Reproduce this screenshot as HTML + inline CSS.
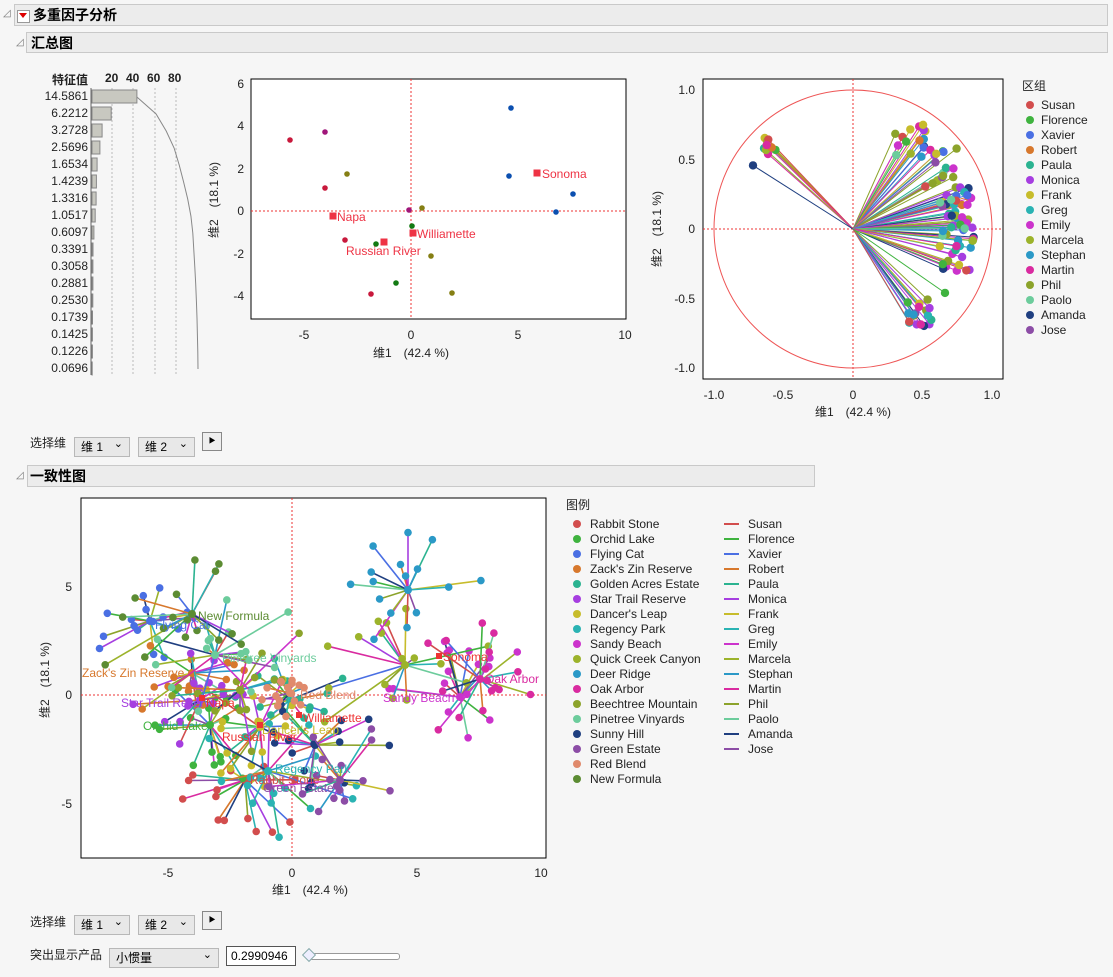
<!DOCTYPE html>
<html><head><meta charset="utf-8">
<style>
body{margin:0;background:#f6f6f6;font-family:"Liberation Sans","Noto Sans CJK SC",sans-serif;}
#root{position:relative;width:1113px;height:977px;overflow:hidden;}
.hdr{position:absolute;background:#ececec;border:1px solid #c9c9c9;font-weight:bold;font-size:14px;line-height:20px;box-sizing:border-box;}
.t{position:absolute;font-size:12px;color:#222;white-space:nowrap;}
.dd{position:absolute;height:20px;border:1px solid #b8b8b8;background:#e8e8e8;box-sizing:border-box;font-size:12px;line-height:18px;padding-left:6px;}
.dd:after{content:"⌄";position:absolute;right:6px;top:-3px;font-size:11px;}
.btn{position:absolute;width:20px;height:19px;border:1px solid #888;background:#eee;box-sizing:border-box;}
svg{position:absolute;left:0;top:0;}
</style></head><body><div id="root">
<div class="t" style="left:3px;top:8px;font-size:10px;color:#777">◿</div>
<div class="hdr" style="left:14px;top:4px;width:1094px;height:22px;padding-left:18px;">多重因子分析</div>
<div style="position:absolute;left:17px;top:10px;width:11px;height:11px;border:1px solid #999;background:#fff;"></div>
<div style="position:absolute;left:19px;top:13px;width:0;height:0;border-left:4px solid transparent;border-right:4px solid transparent;border-top:5px solid #d00;"></div>
<div class="t" style="left:16px;top:37px;font-size:10px;color:#777">◿</div>
<div class="hdr" style="left:26px;top:32px;width:1082px;height:21px;padding-left:4px;">汇总图</div>

<div class="t" style="left:52px;top:71px;font-weight:bold;">特征值</div>
<div class="t" style="left:105px;top:71px;font-weight:bold;">20</div>
<div class="t" style="left:126px;top:71px;font-weight:bold;">40</div>
<div class="t" style="left:147px;top:71px;font-weight:bold;">60</div>
<div class="t" style="left:168px;top:71px;font-weight:bold;">80</div>
<div id="eig"></div>

<div class="t" style="left:30px;top:434px;">选择维</div>
<div class="dd" style="left:74px;top:437px;width:56px;">维 1</div>
<div class="dd" style="left:138px;top:437px;width:57px;">维 2</div>
<div class="btn" style="left:202px;top:432px;"><span style="position:absolute;left:4px;top:1px;font-size:12px">⯈</span></div>
<div class="t" style="left:16px;top:470px;font-size:10px;color:#777">◿</div>
<div class="hdr" style="left:27px;top:465px;width:788px;height:22px;padding-left:2px;">一致性图</div>

<div class="t" style="left:30px;top:913px;">选择维</div>
<div class="dd" style="left:74px;top:915px;width:56px;">维 1</div>
<div class="dd" style="left:138px;top:915px;width:57px;">维 2</div>
<div class="btn" style="left:202px;top:911px;"><span style="position:absolute;left:4px;top:1px;font-size:12px">⯈</span></div>
<div class="t" style="left:30px;top:946px;">突出显示产品</div>
<div class="dd" style="left:109px;top:948px;width:110px;">小惯量</div>
<div style="position:absolute;left:226px;top:946px;width:70px;height:20px;border:1px solid #555;background:#fff;box-sizing:border-box;font-size:12px;line-height:18px;padding-left:4px;">0.2990946</div>
<div style="position:absolute;left:306px;top:953px;width:92px;height:5px;border:1px solid #999;border-radius:3px;background:#fff;"></div>
<div style="position:absolute;left:304px;top:950px;width:8px;height:8px;border:1px solid #8aa;background:#eef;transform:rotate(45deg);"></div>

<svg id="s" width="1113" height="977" xmlns="http://www.w3.org/2000/svg" font-family="Liberation Sans, Noto Sans CJK SC, sans-serif" font-size="12">
<rect x="251" y="79" width="375" height="240" fill="#fff" stroke="#000"/>
<line x1="411" y1="79" x2="411" y2="319" stroke="#e33" stroke-dasharray="2,2"/>
<line x1="251" y1="211" x2="626" y2="211" stroke="#e33" stroke-dasharray="2,2"/>
<g fill="#222" text-anchor="end">
<text x="244" y="88">6</text><text x="244" y="130">4</text><text x="244" y="173">2</text><text x="244" y="215">0</text><text x="244" y="258">-2</text><text x="244" y="300">-4</text></g>
<g fill="#222" text-anchor="middle">
<text x="304" y="339">-5</text><text x="411" y="339">0</text><text x="518" y="339">5</text><text x="625" y="339">10</text>
<text x="411" y="357">维1　(42.4 %)</text>
<text transform="translate(218,200) rotate(-90)">维2　(18.1 %)</text></g>
<g fill="#fff" id="sc1"></g>
<rect x="703" y="79" width="300" height="300" fill="#fff" stroke="#000"/>
<line x1="853" y1="79" x2="853" y2="379" stroke="#e33" stroke-dasharray="2,2"/>
<line x1="703" y1="229" x2="1003" y2="229" stroke="#e33" stroke-dasharray="2,2"/>
<circle cx="853" cy="229" r="139" fill="none" stroke="#e55"/>
<g id="vec"></g>
<g fill="#222" text-anchor="end">
<text x="695" y="94">1.0</text><text x="695" y="164">0.5</text><text x="695" y="233">0</text><text x="695" y="303">-0.5</text><text x="695" y="372">-1.0</text></g>
<g fill="#222" text-anchor="middle">
<text x="714" y="399">-1.0</text><text x="783" y="399">-0.5</text><text x="853" y="399">0</text><text x="922" y="399">0.5</text><text x="992" y="399">1.0</text>
<text x="853" y="416">维1　(42.4 %)</text>
<text transform="translate(661,229) rotate(-90)">维2　(18.1 %)</text></g>
<text x="1022" y="90" fill="#222">区组</text>
<g id="leg1"></g>
<rect x="81" y="498" width="465" height="360" fill="#fff" stroke="#000"/>
<line x1="292" y1="498" x2="292" y2="858" stroke="#e33" stroke-dasharray="2,2"/>
<line x1="81" y1="695" x2="546" y2="695" stroke="#e33" stroke-dasharray="2,2"/>
<g id="big"></g>
<g fill="#222" text-anchor="end">
<text x="72" y="591">5</text><text x="72" y="699">0</text><text x="72" y="808">-5</text></g>
<g fill="#222" text-anchor="middle">
<text x="168" y="877">-5</text><text x="292" y="877">0</text><text x="417" y="877">5</text><text x="541" y="877">10</text>
<text x="310" y="894">维1　(42.4 %)</text>
<text transform="translate(49,680) rotate(-90)">维2　(18.1 %)</text></g>
<g id="biglab" font-size="12">
<text x="198" y="620" fill="#5c8c33">New Formula</text>
<text x="155" y="629" fill="#4a6fe3">Flying Cat</text>
<text x="82" y="677" fill="#d7782d">Zack's Zin Reserve</text>
<text x="222" y="662" fill="#6ccc9c">Pinetree Vinyards</text>
<text x="121" y="707" fill="#a63ee0">Star Trail Reserve</text>
<text x="143" y="730" fill="#3fb33f">Orchid Lake</text>
<text x="300" y="699" fill="#e08a6c">Red Blend</text>
<text x="262" y="734" fill="#c7bc2b">Dancer's Leap</text>
<text x="275" y="773" fill="#2ab3b3">Regency Park</text>
<text x="250" y="784" fill="#d24d4d">Rabbit Stone</text>
<text x="263" y="792" fill="#8c4da6">Green Estate</text>
<text x="383" y="702" fill="#cc33cc">Sandy Beach</text>
<text x="485" y="683" fill="#d92ba0">Oak Arbor</text>
<rect x="199" y="695" width="6" height="6" fill="#e33"/><text x="206" y="707" fill="#e33">Napa</text>
<rect x="296" y="712" width="6" height="6" fill="#e33"/><text x="303" y="722" fill="#e33">Williamette</text>
<rect x="257" y="722" width="6" height="6" fill="#e33"/><text x="222" y="741" fill="#e33">Russian River</text>
<rect x="436" y="653" width="6" height="6" fill="#e33"/><text x="443" y="661" fill="#e33">Sonoma</text>
</g>
<text x="566" y="509" fill="#222">图例</text>
<g id="leg2"></g>
</svg>
<script>
var jc=["#d24d4d","#3fb33f","#4a6fe3","#d7782d","#2bb390","#a63ee0","#c7bc2b","#2ab3b3","#cc33cc","#9cb32b","#2b99c7","#d92ba0","#8ca32b","#6ccc9c","#1f3f80","#8c4da6"];
var jn=["Susan","Florence","Xavier","Robert","Paula","Monica","Frank","Greg","Emily","Marcela","Stephan","Martin","Phil","Paolo","Amanda","Jose"];
var pn=["Rabbit Stone","Orchid Lake","Flying Cat","Zack's Zin Reserve","Golden Acres Estate","Star Trail Reserve","Dancer's Leap","Regency Park","Sandy Beach","Quick Creek Canyon","Deer Ridge","Oak Arbor","Beechtree Mountain","Pinetree Vinyards","Sunny Hill","Green Estate","Red Blend","New Formula"];
var pc=jc.concat(["#e08a6c","#5c8c33"]);
var seed=11;function r(){seed=(seed*16807)%2147483647;return (seed-1)/2147483646;}
function g(){return (r()+r()-1);}
var S='';
var ev=["14.5861","6.2212","3.2728","2.5696","1.6534","1.4239","1.3316","1.0517","0.6097","0.3391","0.3058","0.2881","0.2530","0.1739","0.1425","0.1226","0.0696"];
var tot=0;ev.forEach(function(v){tot+=+v});
var e='';var cum=0;var pts=[];
ev.forEach(function(v,i){var y=89+i*17;var w=(+v)/tot*106;
e+='<div class="t" style="left:0;width:88px;text-align:right;top:'+(y)+'px">'+v+'</div>';
S+='<rect x="92" y="'+(y+1)+'" width="'+w.toFixed(1)+'" height="13" fill="#c8c8c0" stroke="#888"/>';
cum+=(+v)/tot*100;pts.push((92+cum*1.06).toFixed(1)+','+(y+8));});
document.getElementById('eig').innerHTML=e;
var pre='<line x1="91" y1="88" x2="91" y2="375" stroke="#666"/>';
[112,133,155,176].forEach(function(x){pre+='<line x1="'+x+'" y1="88" x2="'+x+'" y2="375" stroke="#bbb" stroke-dasharray="2,2"/>'});
pre+='<polyline points="'+pts.join(' ')+'" fill="none" stroke="#888"/>';
var sc=[[290,140,"#c8193c"],[325,188,"#c8193c"],[345,240,"#c8193c"],[371,294,"#c8193c"],[325,132,"#a0167a"],[409,210,"#a0167a"],[347,174,"#857f14"],[422,208,"#857f14"],[431,256,"#857f14"],[452,293,"#857f14"],[412,226,"#137a13"],[376,244,"#137a13"],[396,283,"#137a13"],[511,108,"#0b4fb0"],[509,176,"#0b4fb0"],[573,194,"#0b4fb0"],[556,212,"#0b4fb0"]];
sc.forEach(function(p){S+='<circle cx="'+p[0]+'" cy="'+p[1]+'" r="2.8" fill="'+p[2]+'"/>'});
[[537,173,"Sonoma",542,178],[333,216,"Napa",337,221],[413,233,"Williamette",417,238],[384,242,"Russian River",346,255]].forEach(function(q){
S+='<rect x="'+(q[0]-3.5)+'" y="'+(q[1]-3.5)+'" width="7" height="7" fill="#ee3344"/><text x="'+q[3]+'" y="'+q[4]+'" fill="#ee3344">'+q[2]+'</text>'});
document.getElementById('sc1').innerHTML=S;
document.getElementById('s').insertAdjacentHTML('afterbegin',pre);
// vectors: [x,y] endpoints in unit coords ranges
var cl=[[-0.64,-0.54,0.50,0.68,10],[-0.72,-0.70,0.45,0.47,1],[0.30,0.52,0.52,0.75,16],[0.52,0.75,0.30,0.58,16],[0.62,0.87,0.05,0.30,30],[0.62,0.87,-0.30,0.05,30],[0.38,0.58,-0.70,-0.50,18],[0.66,0.69,-0.46,-0.44,1]];
var V='',D='';
cl.forEach(function(c){for(var i=0;i<c[4];i++){var ux=c[0]+r()*(c[1]-c[0]),uy=c[2]+r()*(c[3]-c[2]);
var x=853+ux*139,y=229-uy*139;var col=jc[Math.floor(r()*16)];
V+='<line x1="853" y1="229" x2="'+x.toFixed(1)+'" y2="'+y.toFixed(1)+'" stroke="'+col+'" stroke-width="1"/>';D+='<circle cx="'+x.toFixed(1)+'" cy="'+y.toFixed(1)+'" r="4.2" fill="'+col+'"/>';}});
document.getElementById('vec').innerHTML=V+D;
var L1='';jn.forEach(function(n,i){var y=105+i*15;L1+='<circle cx="1030" cy="'+y+'" r="4" fill="'+jc[i]+'"/><text x="1041" y="'+(y+4)+'" fill="#222">'+n+'</text>'});
document.getElementById('leg1').innerHTML=L1;
var cen=[[245,780,55],[210,725,50],[150,621,45],[192,673,45],[290,700,50],[200,700,50],[260,727,55],[268,771,60],[460,697,55],[405,665,60],[408,590,60],[480,679,50],[240,690,55],[215,655,55],[315,745,50],[340,780,55],[290,693,20],[192,614,60]];
var B='';
cen.forEach(function(c,pi){var col=pc[pi];var d='';
for(var j=0;j<16;j++){var x=c[0]+g()*c[2]*1.5,y=c[1]+g()*c[2]*1.3;
x=Math.max(85,Math.min(542,x));y=Math.max(502,Math.min(854,y));
B+='<line x1="'+c[0]+'" y1="'+c[1]+'" x2="'+x.toFixed(1)+'" y2="'+y.toFixed(1)+'" stroke="'+jc[j]+'" stroke-width="1.6"/>';
d+='<circle cx="'+x.toFixed(1)+'" cy="'+y.toFixed(1)+'" r="3.8" fill="'+col+'"/>';}
B+=d+'<circle cx="'+c[0]+'" cy="'+c[1]+'" r="4" fill="'+col+'"/>';});
document.getElementById('big').innerHTML=B;
var L2='';pn.forEach(function(n,i){var y=524+i*15;L2+='<circle cx="577" cy="'+y+'" r="4" fill="'+pc[i]+'"/><text x="590" y="'+(y+4)+'" fill="#222">'+n+'</text>'});
jn.forEach(function(n,i){var y=524+i*15;L2+='<line x1="724" y1="'+y+'" x2="739" y2="'+y+'" stroke="'+jc[i]+'" stroke-width="2"/><text x="748" y="'+(y+4)+'" fill="#222">'+n+'</text>'});
document.getElementById('leg2').innerHTML=L2;
</script>
</div></body></html>
